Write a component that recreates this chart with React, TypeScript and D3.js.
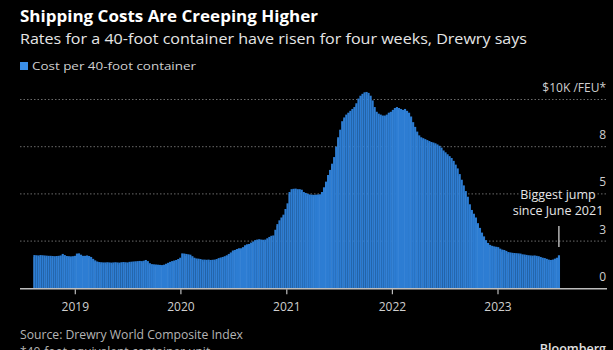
import React from "react";
import * as d3 from "d3";

// Weekly Drewry WCI composite, thousands of $ per FEU, starting 2018-08-09
const rates: number[] = [
  1.76, 1.75, 1.74, 1.76, 1.75,
  1.74, 1.73, 1.72, 1.72, 1.71,
  1.70, 1.71, 1.72, 1.74, 1.82,
  1.76, 1.71, 1.70, 1.69, 1.70,
  1.72, 1.84, 1.85, 1.78, 1.72,
  1.72, 1.74, 1.71, 1.66, 1.56,
  1.48, 1.42, 1.39, 1.38, 1.37,
  1.37, 1.38, 1.37, 1.36, 1.37,
  1.38, 1.37, 1.36, 1.38, 1.39,
  1.38, 1.37, 1.40, 1.41, 1.42,
  1.43, 1.44, 1.45, 1.44, 1.46,
  1.50, 1.44, 1.33, 1.28, 1.27,
  1.26, 1.25, 1.24, 1.23, 1.25,
  1.30, 1.35, 1.40, 1.44, 1.47,
  1.50, 1.55, 1.62, 1.85, 1.84,
  1.82, 1.80, 1.78, 1.70, 1.62,
  1.58, 1.57, 1.55, 1.52, 1.52,
  1.51, 1.52, 1.50, 1.51, 1.52,
  1.55, 1.60, 1.63, 1.66, 1.70,
  1.75, 1.82, 1.90, 2.00, 2.03,
  2.08, 2.12, 2.12, 2.18, 2.28,
  2.33, 2.35, 2.42, 2.48, 2.55,
  2.58, 2.60, 2.58, 2.57, 2.58,
  2.65, 2.72, 2.78, 2.80, 3.10,
  3.40, 3.60, 3.75, 3.90, 4.20,
  4.50, 5.10, 5.25, 5.27, 5.28,
  5.25, 5.25, 5.22, 5.10, 5.05,
  5.00, 4.97, 4.96, 4.95, 4.96,
  4.97, 4.98, 5.10, 5.35, 5.65,
  6.00, 6.27, 6.60, 6.95, 7.50,
  8.00, 8.40, 8.85, 9.05, 9.20,
  9.30, 9.40, 9.50, 9.60, 9.80,
  10.05, 10.20, 10.30, 10.38, 10.40,
  10.35, 10.20, 9.95, 9.60, 9.35,
  9.25, 9.20, 9.15, 9.15, 9.20,
  9.30, 9.35, 9.45, 9.55, 9.60,
  9.55, 9.50, 9.45, 9.50, 9.40,
  9.30, 9.10, 8.80, 8.55, 8.30,
  8.10, 8.00, 7.95, 7.90, 7.85,
  7.80, 7.75, 7.72, 7.68, 7.62,
  7.55, 7.45, 7.30, 7.20, 7.10,
  7.00, 6.90, 6.75, 6.55, 6.35,
  6.05, 5.75, 5.45, 5.15, 4.85,
  4.45, 4.15, 3.95, 3.75, 3.45,
  3.20, 2.95, 2.75, 2.55, 2.40,
  2.30, 2.25, 2.22, 2.20, 2.18,
  2.10, 2.05, 2.03, 1.98, 1.92,
  1.90, 1.88, 1.87, 1.86, 1.85,
  1.84, 1.80, 1.79, 1.77, 1.75,
  1.74, 1.73, 1.74, 1.72, 1.70,
  1.66, 1.62, 1.60, 1.56, 1.52,
  1.50, 1.52, 1.57, 1.62, 1.75,
];
const startWeek = new Date(2018, 7, 9);
const yTickValues = [0, 2.5, 5, 7.5, 10];
const yTickLabels = ["0", "3", "5", "8", "$10K /FEU*"];
const yearTicks = [2019, 2020, 2021, 2022, 2023];

const W = 613;
const H = 350;

export default function App() {
  const dates = rates.map((_, i) => d3.timeDay.offset(startWeek, i * 7));
  const x = d3
    .scaleTime()
    .domain([new Date(2019, 0, 1), new Date(2023, 0, 1)])
    .range([75.3, 498]);
  const y = d3.scaleLinear().domain([0, 10]).range([288.3, 99.5]);
  const step = x(d3.timeDay.offset(startWeek, 7)) - x(startWeek);
  const lastX = x(dates[dates.length - 1]) + step / 2;
  const font = "'Open Sans', 'Noto Sans', sans-serif";

  return (
    <svg
      width={W}
      height={H}
      style={{ position: "fixed", left: 0, top: 0, background: "#000" }}
      fontFamily={font}
    >
      <rect x={0} y={0} width={W} height={H} fill="#000" />
      <text x={20} y={22} fill="#fff" fontSize={16.5} fontWeight={700} textLength={298} lengthAdjust="spacingAndGlyphs">
        Shipping Costs Are Creeping Higher
      </text>
      <text x={20} y={44} fill="#e6e6e6" fontSize={15} textLength={507} lengthAdjust="spacingAndGlyphs">
        Rates for a 40-foot container have risen for four weeks, Drewry says
      </text>
      <rect x={20} y={62} width={8} height={8} fill="#3a8fe8" />
      <text x={32} y={70} fill="#d0d0d0" fontSize={11} textLength={164} lengthAdjust="spacingAndGlyphs">
        Cost per 40-foot container
      </text>

      {/* gridlines */}
      {yTickValues.slice(1).map((v) => (
        <line
          key={v}
          x1={20}
          x2={607}
          y1={y(v)}
          y2={y(v)}
          stroke="#6a6a6a"
          strokeWidth={1}
          strokeDasharray="1.5,2"
        />
      ))}

      {/* bars */}
      {rates.map((v, i) => (
        <rect
          key={i}
          x={x(dates[i])}
          y={y(v)}
          width={step + 0.1}
          height={y(0) - y(v)}
          fill="#2d7dd3"
        />
      ))}
      {/* subtle stripes */}
      {rates.map((v, i) =>
        i % 3 === 0 ? (
          <line
            key={"s" + i}
            x1={x(dates[i]) + 0.3}
            x2={x(dates[i]) + 0.3}
            y1={y(v) + 2}
            y2={y(0)}
            stroke="#5a9be0"
            strokeWidth={0.5}
            opacity={0.6}
          />
        ) : null
      )}

      {/* baseline */}
      <line x1={20} x2={607} y1={y(0) + 0.5} y2={y(0) + 0.5} stroke="#bdbdbd" strokeWidth={1.5} />
      {yearTicks.map((yr) => {
        const tx = x(new Date(yr, 0, 1));
        return (
          <g key={yr}>
            <line x1={tx} x2={tx} y1={y(0) + 1} y2={y(0) + 6} stroke="#bdbdbd" strokeWidth={1.2} />
            <text x={tx} y={311} textAnchor="middle" fill="#cfcfcf" fontSize={12}>
              {yr}
            </text>
          </g>
        );
      })}

      {/* y labels */}
      {yTickValues.map((v, i) => (
        <text key={v} x={606} y={y(v) - 7.5} textAnchor="end" fill="#cfcfcf" fontSize={12}>
          {yTickLabels[i]}
        </text>
      ))}

      {/* annotation */}
      <line x1={lastX} x2={lastX} y1={226} y2={247} stroke="#e0e0e0" strokeWidth={1.2} />
      <g fontSize={12.5} fill="#e6e6e6" textAnchor="middle" stroke="#000" strokeWidth={3} style={{ paintOrder: "stroke" }}>
        <text x={558} y={199}>Biggest jump</text>
        <text x={558} y={215}>since June 2021</text>
      </g>

      {/* footer */}
      <text x={20} y={339} fill="#b5b5b5" fontSize={12} textLength={223} lengthAdjust="spacingAndGlyphs">
        Source: Drewry World Composite Index
      </text>
      <text x={20} y={356} fill="#b5b5b5" fontSize={12}>
        *40-foot equivalent container unit
      </text>
      <text x={606} y={353} textAnchor="end" fill="#e0e0e0" fontSize={12.5} fontWeight={600}>
        Bloomberg
      </text>
    </svg>
  );
}
